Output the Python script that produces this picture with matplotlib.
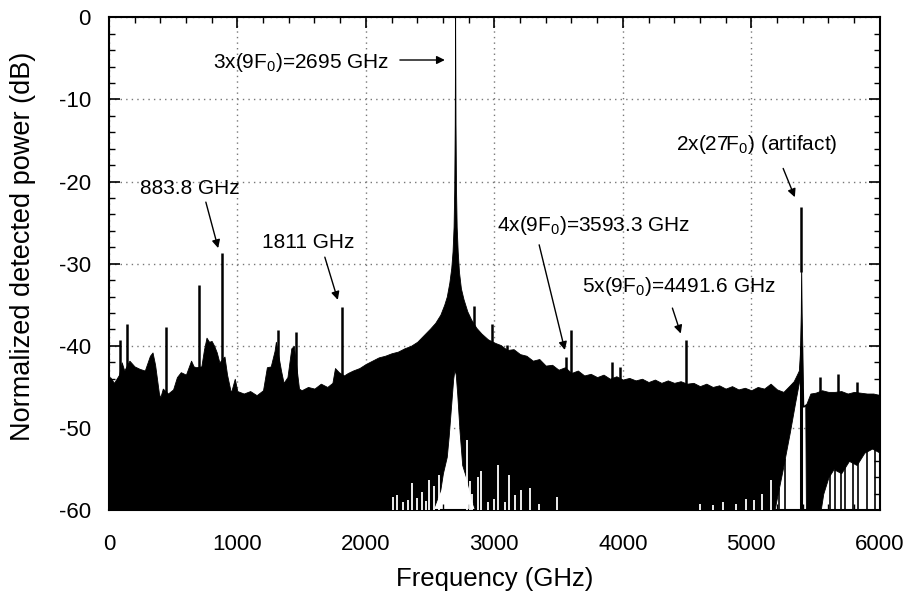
import matplotlib
matplotlib.use("Agg")
import matplotlib.pyplot as plt
from matplotlib.ticker import MultipleLocator
import numpy as np

plt.rcParams["font.family"] = ["Liberation Sans", "DejaVu Sans"]
plt.rcParams["mathtext.default"] = "regular"
plt.rcParams["axes.unicode_minus"] = False

# upper edge of the noise floor (GHz, dB)
up_f = [0, 10, 40, 60, 80, 100, 120, 160, 200, 240, 280, 320, 340, 360, 390,
        400, 420, 460, 500, 530, 560, 600, 640, 660, 680, 720, 740, 760, 780,
        800, 820, 840, 860, 900, 920, 950, 980, 1000, 1050, 1100, 1150, 1200,
        1230, 1260, 1290, 1300, 1340, 1360, 1390, 1420, 1440, 1480, 1500, 1550,
        1600, 1650, 1700, 1740, 1760, 1790, 1830, 1860, 1900, 1950, 2000, 2050,
        2100, 2150, 2200, 2250, 2300, 2350, 2400, 2450, 2500, 2540, 2580, 2610,
        2630, 2650, 2665, 2675, 2683, 2688, 2692, 2695, 2698, 2702, 2707, 2715,
        2725, 2740, 2760, 2790, 2820, 2860, 2900, 2950,
        3000, 3050, 3100, 3150, 3200, 3250, 3300, 3350, 3400, 3450, 3500, 3550,
        3600, 3650, 3700, 3750, 3800, 3850, 3900, 3950, 4000, 4050, 4100, 4150,
        4200, 4250, 4300, 4350, 4400, 4450, 4500, 4550, 4600, 4650, 4700, 4750,
        4800, 4850, 4900, 4950, 5000, 5050, 5100, 5150, 5200, 5250, 5300,
        5330, 5355, 5370, 5378, 5385, 5388, 5392, 5398, 5405, 5430, 5460, 5500,
        5550, 5600, 5650, 5700, 5750, 5800, 5850, 5900, 5950, 6000]
up_db = [-44.0, -43.8, -44.5, -44.0, -43.5, -42.0, -43.0, -41.8, -42.5, -42.8,
         -43.0, -41.2, -40.8, -42.3, -45.8, -46.3, -45.2, -45.8, -45.3, -43.8,
         -43.2, -43.5, -41.8, -42.5, -42.6, -42.5, -40.5, -39.0, -39.5, -39.4,
         -40.0, -40.8, -42.0, -41.3, -43.5, -45.7, -44.0, -45.5, -45.8, -45.5,
         -46.0, -45.4, -42.6, -42.5, -40.6, -39.5, -43.0, -44.5, -43.8, -40.3,
         -40.0, -45.2, -45.4, -45.0, -45.2, -44.6, -45.0, -44.5, -42.7, -43.2,
         -43.6, -43.3, -43.0, -42.7, -42.2, -41.8, -41.4, -41.2, -40.9, -40.7,
         -40.3, -40.0, -39.5, -38.7, -37.9, -37.2, -36.2, -35.0, -34.0, -32.3,
         -30.5, -28.5, -25.5, -21.0, -13.0, 0.0, -13.0, -21.0, -25.5, -28.5,
         -31.0, -33.0, -34.3, -35.8, -36.8, -37.8, -38.5, -39.2,
         -39.6, -39.9, -40.5, -40.4, -41.0, -41.2, -41.8, -41.6, -42.4, -42.3,
         -42.9, -42.6, -43.3, -43.0, -43.6, -43.4, -43.8, -43.5, -44.0, -43.7,
         -44.1, -43.9, -44.2, -44.0, -44.4, -44.1, -44.5, -44.2, -44.5, -44.3,
         -44.6, -44.5, -44.9, -44.6, -45.0, -44.8, -45.2, -44.9, -45.3, -45.1,
         -45.4, -45.0, -45.2, -44.6, -45.3, -45.6, -44.8,
         -44.3, -43.5, -43.0, -41.0, -36.0, -30.0, -36.0, -41.0, -47.4, -47.0,
         -45.8, -45.7, -45.4, -45.6, -45.6, -45.5, -45.8, -45.6, -45.7, -45.8,
         -45.8, -46.0]

# lower edge of the noise floor (GHz, dB)
lo_f = [0, 2520, 2545, 2580, 2600, 2630, 2645, 2665, 2680, 2690, 2700, 2712,
        2730, 2750, 2790, 2825, 2850, 5180, 5245, 5300, 5340, 5370, 5380, 5388,
        5392, 5398, 5405, 5420, 5425, 5540, 5560, 5600, 5640, 5700, 5760, 5820,
        5880, 5940, 6000]
lo_db = [-60, -60, -59.0, -57.5, -55.5, -53.5, -51.0, -47.0, -44.0, -42.9,
         -43.5, -46.0, -50.5, -54.5, -56.5, -58.8, -60, -60, -55.0, -50.5,
         -47.0, -44.5, -44.0, -44.0, -44.0, -46.0, -47.4, -47.0, -60, -60,
         -58.0, -56.0, -55.0, -55.5, -54.0, -54.5, -53.0, -52.5, -53.0]

# narrow lines standing above the floor
spike_f = [86, 145, 441, 703, 884, 1318, 1460, 1811, 2840, 2985, 3095, 3555,
           3593, 3919, 3977, 4492, 5388, 5533, 5678, 5824]
spike_db = [-39.3, -37.3, -37.7, -32.6, -28.7, -38.1, -38.3, -35.3, -35.2,
            -37.3, -39.9, -41.3, -38.1, -42.0, -42.6, -39.3, -23.1, -43.8,
            -43.4, -44.4]

# white gaps reaching up from the bottom
gap_f = [2208, 2239, 2290, 2330, 2363, 2400, 2440, 2470, 2493, 2530, 2571,
         2789, 2810, 2830, 2874, 2895, 2950, 3000, 3030, 3080, 3115, 3160,
         3204, 3276, 3350, 3484, 4600, 4700, 4780, 4880, 4960, 5020, 5080,
         5157]
gap_db = [-58.4, -58.2, -59.0, -58.8, -56.7, -58.5, -57.8, -58.9, -56.3, -57.0,
          -55.7, -51.5, -56.5, -58.0, -56.0, -55.2, -59.0, -58.6, -54.5, -59.0,
          -55.7, -58.1, -57.6, -57.3, -59.2, -58.4, -59.2, -59.4, -59.0, -59.3,
          -58.6, -58.8, -58.0, -56.3]

# dark lines reaching the bottom in the right-hand region and in the wedge
streak_f = [5215, 5260, 5615, 5650, 5700, 5730, 5790, 5830, 5900, 5960]

fig = plt.figure(figsize=(9.07, 5.96), dpi=100)
ax = fig.add_axes([0.120, 0.144, 0.850, 0.827])

grid_f = np.union1d(up_f, lo_f)
top = np.interp(grid_f, up_f, up_db)
bottom = np.minimum(np.interp(grid_f, lo_f, lo_db), top)
ax.fill_between(grid_f, bottom, top, color="black", lw=0.6)
ax.vlines(gap_f, -60, gap_db, color="white", lw=1.3, zorder=3)
ax.vlines(streak_f, -60, np.interp(streak_f, lo_f, lo_db), color="black", lw=1.2, zorder=3)
ax.vlines(spike_f, np.interp(spike_f, up_f, up_db) - 1, spike_db, color="black", lw=1.8, zorder=4)
ax.vlines([5388], -60, -40, color="black", lw=2.2, zorder=4)

ax.set_xlim(0, 6000)
ax.set_ylim(-60, 0)
ax.xaxis.set_major_locator(MultipleLocator(1000))
ax.xaxis.set_minor_locator(MultipleLocator(200))
ax.yaxis.set_major_locator(MultipleLocator(10))
ax.yaxis.set_minor_locator(MultipleLocator(2))
ax.tick_params(which="both", direction="in", top=True, right=True, labelsize=16)
ax.tick_params(axis="x", pad=17)
ax.tick_params(axis="y", pad=13)
ax.tick_params(which="major", length=8, width=1.2)
ax.tick_params(which="minor", length=4, width=1.0)
ax.grid(True, which="major", linestyle=(0, (1, 3)), color="#777777", lw=1.0)
ax.set_axisbelow(True)
for s in ax.spines.values():
    s.set_linewidth(1.5)

ax.set_xlabel("Frequency (GHz)", fontsize=18.5)
ax.set_ylabel("Normalized detected power (dB)", fontsize=19.5)
ax.xaxis.set_label_coords(0.5, -0.115)
ax.yaxis.set_label_coords(-0.095, 0.535)

arrow = dict(arrowstyle="-|>", color="black", lw=1.0, mutation_scale=12, shrinkA=0, shrinkB=0)
tf = 15
ax.annotate("", xy=(2615, -5.2), xytext=(2265, -5.2), arrowprops=arrow)
ax.text(809, -5.5, "3x(9F$_0$)=2695 GHz", fontsize=tf, va="center", ha="left")
ax.annotate("", xy=(851, -28.1), xytext=(755, -22.5), arrowprops=arrow)
ax.text(630, -20.9, "883.8 GHz", fontsize=tf, va="center", ha="center")
ax.annotate("", xy=(1782, -34.4), xytext=(1681, -29.2), arrowprops=arrow)
ax.text(1553, -27.4, "1811 GHz", fontsize=tf, va="center", ha="center")
ax.annotate("", xy=(3549, -40.5), xytext=(3349, -27.7), arrowprops=arrow)
ax.text(3019, -25.4, "4x(9F$_0$)=3593.3 GHz", fontsize=tf, va="center", ha="left")
ax.annotate("", xy=(4451, -38.5), xytext=(4386, -35.4), arrowprops=arrow)
ax.text(3680, -32.8, "5x(9F$_0$)=4491.6 GHz", fontsize=tf, va="center", ha="left")
ax.annotate("", xy=(5339, -21.9), xytext=(5248, -18.4), arrowprops=arrow)
ax.text(4413, -15.5, "2x(27F$_0$) (artifact)", fontsize=tf, va="center", ha="left")

fig.savefig("out.png", dpi=100)
